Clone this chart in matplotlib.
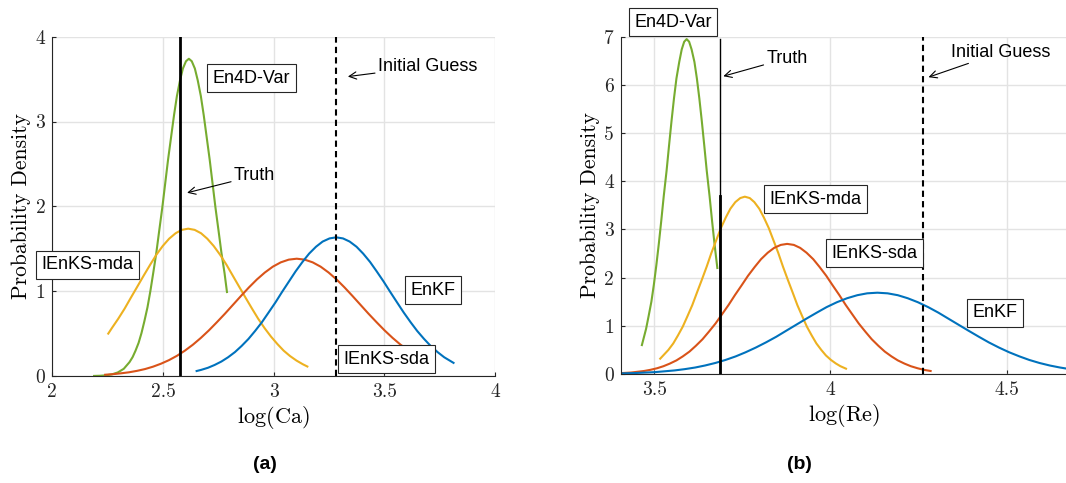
import matplotlib
matplotlib.use("Agg")
from matplotlib import pyplot as plt

plt.rcParams['mathtext.fontset'] = 'cm'
plt.rcParams['axes.formatter.use_mathtext'] = True

# MATLAB default colours
c_blue = (0.0, 0.447, 0.741)
c_red = (0.85, 0.325, 0.098)
c_yel = (0.929, 0.694, 0.125)
c_green = (0.466, 0.674, 0.188)

# ---- (a) log(Ca) ----
ca_4dvar_x = [2.189, 2.216, 2.242, 2.269, 2.296, 2.323, 2.349, 2.363, 2.376, 2.390, 2.403, 2.416,
              2.430, 2.443, 2.456, 2.470, 2.483, 2.497, 2.510, 2.523, 2.537, 2.550, 2.563, 2.577,
              2.590, 2.604, 2.617, 2.630, 2.644, 2.657, 2.671, 2.684, 2.697, 2.711, 2.724, 2.737,
              2.751, 2.764, 2.778, 2.789]
ca_4dvar_y = [0.001, 0.003, 0.008, 0.019, 0.042, 0.085, 0.164, 0.223, 0.298, 0.391, 0.506, 0.645,
              0.809, 0.999, 1.214, 1.453, 1.712, 1.986, 2.268, 2.550, 2.823, 3.076, 3.301, 3.486,
              3.625, 3.711, 3.740, 3.711, 3.625, 3.486, 3.301, 3.076, 2.823, 2.550, 2.268, 1.986,
              1.712, 1.453, 1.214, 0.99]
ca_mda_x = [2.253, 2.269, 2.298, 2.327, 2.355, 2.384, 2.413, 2.442, 2.470, 2.499, 2.528, 2.557,
            2.585, 2.614, 2.643, 2.672, 2.700, 2.729, 2.758, 2.787, 2.815, 2.844, 2.873, 2.902,
            2.930, 2.959, 2.988, 3.017, 3.045, 3.074, 3.103, 3.132, 3.152]
ca_mda_y = [0.500, 0.564, 0.675, 0.795, 0.923, 1.053, 1.184, 1.311, 1.429, 1.533, 1.619, 1.683,
            1.723, 1.737, 1.723, 1.683, 1.619, 1.533, 1.429, 1.311, 1.184, 1.053, 0.923, 0.795,
            0.675, 0.564, 0.464, 0.376, 0.299, 0.235, 0.182, 0.138, 0.112]
ca_sda_x = [2.239, 2.275, 2.311, 2.347, 2.383, 2.419, 2.455, 2.491, 2.527, 2.563, 2.599, 2.635,
            2.671, 2.707, 2.743, 2.780, 2.816, 2.852, 2.888, 2.924, 2.960, 2.996, 3.032, 3.068,
            3.104, 3.140, 3.176, 3.212, 3.248, 3.284, 3.320, 3.356, 3.392, 3.428, 3.465, 3.501,
            3.537, 3.573, 3.623]
ca_sda_y = [0.015, 0.022, 0.032, 0.044, 0.061, 0.082, 0.110, 0.145, 0.187, 0.238, 0.299, 0.369,
            0.449, 0.537, 0.633, 0.735, 0.839, 0.943, 1.044, 1.138, 1.220, 1.289, 1.340, 1.372,
            1.383, 1.372, 1.340, 1.289, 1.220, 1.138, 1.044, 0.943, 0.839, 0.735, 0.633, 0.537,
            0.449, 0.369, 0.274]
ca_enkf_x = [2.652, 2.672, 2.703, 2.733, 2.764, 2.794, 2.825, 2.855, 2.886, 2.916, 2.947, 2.977,
             3.008, 3.038, 3.069, 3.099, 3.130, 3.160, 3.191, 3.221, 3.252, 3.282, 3.313, 3.343,
             3.374, 3.404, 3.435, 3.465, 3.496, 3.526, 3.557, 3.587, 3.618, 3.648, 3.679, 3.709,
             3.740, 3.770, 3.812]
ca_enkf_y = [0.059, 0.072, 0.097, 0.130, 0.171, 0.221, 0.282, 0.354, 0.437, 0.531, 0.635, 0.749,
             0.868, 0.992, 1.115, 1.234, 1.345, 1.443, 1.524, 1.585, 1.622, 1.635, 1.622, 1.585,
             1.524, 1.443, 1.345, 1.234, 1.115, 0.992, 0.868, 0.749, 0.635, 0.531, 0.437, 0.354,
             0.282, 0.221, 0.155]
ca_truth = 2.577
ca_guess = 3.282

# ---- (b) log(Re) ----
re_4dvar_x = [3.465, 3.477, 3.484, 3.492, 3.499, 3.506, 3.513, 3.520, 3.527, 3.535, 3.542, 3.549,
              3.556, 3.563, 3.571, 3.578, 3.585, 3.592, 3.599, 3.606, 3.614, 3.621, 3.628, 3.635,
              3.642, 3.649, 3.657, 3.664, 3.671, 3.679]
re_4dvar_y = [0.60, 0.940, 1.198, 1.503, 1.856, 2.257, 2.701, 3.182, 3.691, 4.215, 4.739, 5.246,
              5.717, 6.133, 6.478, 6.736, 6.896, 6.950, 6.896, 6.736, 6.478, 6.133, 5.717, 5.246,
              4.739, 4.215, 3.691, 3.182, 2.701, 2.20]
re_mda_x = [3.517, 3.540, 3.554, 3.567, 3.581, 3.594, 3.608, 3.621, 3.635, 3.649, 3.662, 3.676,
            3.689, 3.703, 3.716, 3.730, 3.744, 3.757, 3.771, 3.784, 3.798, 3.811, 3.825, 3.838,
            3.852, 3.865, 3.879, 3.893, 3.906, 3.920, 3.933, 3.947, 3.960, 3.974, 3.987, 4.001,
            4.015, 4.028, 4.044]
re_mda_y = [0.318, 0.498, 0.634, 0.796, 0.983, 1.195, 1.430, 1.685, 1.954, 2.232, 2.509, 2.778,
            3.027, 3.248, 3.430, 3.567, 3.651, 3.680, 3.651, 3.567, 3.430, 3.248, 3.027, 2.778,
            2.509, 2.232, 1.954, 1.685, 1.430, 1.195, 0.983, 0.796, 0.634, 0.498, 0.385, 0.293,
            0.219, 0.162, 0.110]
re_sda_x = [3.397, 3.434, 3.471, 3.489, 3.508, 3.526, 3.544, 3.563, 3.581, 3.600, 3.618, 3.637,
            3.655, 3.674, 3.692, 3.711, 3.729, 3.748, 3.766, 3.785, 3.803, 3.822, 3.840, 3.859,
            3.877, 3.896, 3.914, 3.932, 3.951, 3.969, 3.988, 4.006, 4.025, 4.043, 4.062, 4.080,
            4.099, 4.117, 4.136, 4.154, 4.173, 4.191, 4.210, 4.228, 4.247, 4.265, 4.284]
re_sda_y = [0.014, 0.030, 0.062, 0.086, 0.119, 0.161, 0.215, 0.282, 0.365, 0.465, 0.584, 0.721,
            0.877, 1.049, 1.236, 1.434, 1.638, 1.841, 2.038, 2.221, 2.383, 2.517, 2.617, 2.679,
            2.700, 2.679, 2.617, 2.517, 2.383, 2.221, 2.038, 1.841, 1.638, 1.434, 1.236, 1.049,
            0.877, 0.721, 0.584, 0.465, 0.365, 0.282, 0.215, 0.161, 0.119, 0.086, 0.062]
re_enkf_x = [3.386, 3.443, 3.501, 3.558, 3.587, 3.616, 3.644, 3.673, 3.702, 3.731, 3.759, 3.788,
             3.817, 3.846, 3.874, 3.903, 3.932, 3.961, 3.989, 4.018, 4.047, 4.076, 4.104, 4.133,
             4.162, 4.191, 4.219, 4.248, 4.277, 4.306, 4.334, 4.363, 4.392, 4.421, 4.449, 4.478,
             4.507, 4.536, 4.564, 4.593, 4.622, 4.651, 4.679, 4.708]
re_enkf_y = [0.009, 0.019, 0.038, 0.074, 0.101, 0.134, 0.176, 0.228, 0.291, 0.365, 0.450, 0.548,
             0.656, 0.772, 0.896, 1.023, 1.150, 1.273, 1.388, 1.489, 1.572, 1.635, 1.674, 1.687,
             1.674, 1.635, 1.572, 1.489, 1.388, 1.273, 1.150, 1.023, 0.896, 0.772, 0.656, 0.548,
             0.450, 0.365, 0.291, 0.228, 0.176, 0.134, 0.101, 0.074]
re_truth = 3.687
re_guess = 4.261

sans = ['Liberation Sans', 'DejaVu Sans']
box = dict(boxstyle='square,pad=0.3', fc='white', ec=(0.15, 0.15, 0.15), lw=0.8)
arrow = dict(arrowstyle='->', color='k', lw=0.8, shrinkA=0, shrinkB=0)


def style_axes(ax, xlim, ylim, xticks, yticks):
    ax.set_xlim(*xlim)
    ax.set_ylim(*ylim)
    ax.set_xticks(xticks)
    ax.set_yticks(yticks)
    ax.set_xticklabels([('%g' % t) for t in xticks], family='cmr10', fontsize=14)
    ax.set_yticklabels([('%g' % t) for t in yticks], family='cmr10', fontsize=14)
    ax.grid(True, color=(0.89, 0.89, 0.89), lw=1.0)
    ax.set_axisbelow(True)
    for s in ['top', 'right']:
        ax.spines[s].set_visible(False)
    for s in ['left', 'bottom']:
        ax.spines[s].set_color((0.15, 0.15, 0.15))
        ax.spines[s].set_linewidth(0.8)
    ax.tick_params(direction='in', length=3, width=0.8, color=(0.15, 0.15, 0.15),
                   labelcolor=(0.15, 0.15, 0.15), pad=5)
    ax.set_ylabel('Probability Density', family='cmr10', fontsize=15.5, labelpad=3)


fig = plt.figure(figsize=(10.66, 4.83), dpi=100)

# (a)
ax1 = fig.add_axes([0.049, 0.2215, 0.4155, 0.7025])
ax1.plot(ca_4dvar_x, ca_4dvar_y, color=c_green, lw=1.5)
ax1.plot(ca_mda_x, ca_mda_y, color=c_yel, lw=1.5)
ax1.plot(ca_sda_x, ca_sda_y, color=c_red, lw=1.5)
ax1.plot(ca_enkf_x, ca_enkf_y, color=c_blue, lw=1.5)
ax1.plot([ca_truth, ca_truth], [0, 4], color='k', lw=2.0)
ax1.plot([ca_guess, ca_guess], [0, 4], color='k', lw=1.5, dashes=(3, 2))
style_axes(ax1, (2, 4), (0, 4), [2, 2.5, 3, 3.5, 4], [0, 1, 2, 3, 4])
ax1.set_xlabel(r'$\log(\mathrm{Ca})$', fontsize=16, labelpad=2)
ax1.annotate('Initial Guess', xy=(3.335, 3.53), xytext=(3.47, 3.65), family=sans, fontsize=13,
             va='center', ha='left', arrowprops=arrow)
ax1.annotate('Truth', xy=(2.609, 2.16), xytext=(2.82, 2.36), family=sans, fontsize=13,
             va='center', ha='left', arrowprops=arrow)
ax1.text(2.90, 3.51, 'En4D-Var', family=sans, fontsize=13, ha='center', va='center', bbox=box, zorder=5)
ax1.text(2.16, 1.31, 'IEnKS-mda', family=sans, fontsize=13, ha='center', va='center', bbox=box,
         zorder=5, clip_on=False)
ax1.text(3.72, 1.01, 'EnKF', family=sans, fontsize=13, ha='center', va='center', bbox=box, zorder=5)
ax1.text(3.51, 0.20, 'IEnKS-sda', family=sans, fontsize=13, ha='center', va='center', bbox=box, zorder=5)

# (b)
ax2 = fig.add_axes([0.5823, 0.2257, 0.4177, 0.6983])
ax2.plot(re_4dvar_x, re_4dvar_y, color=c_green, lw=1.5)
ax2.plot(re_mda_x, re_mda_y, color=c_yel, lw=1.5)
ax2.plot(re_sda_x, re_sda_y, color=c_red, lw=1.5)
ax2.plot(re_enkf_x, re_enkf_y, color=c_blue, lw=1.5)
ax2.plot([re_truth, re_truth], [0, 6.95], color='k', lw=1.0)
ax2.plot([re_truth, re_truth], [0, 3.7], color='k', lw=2.0)
ax2.plot([re_guess, re_guess], [0, 7], color='k', lw=1.5, dashes=(3, 2))
style_axes(ax2, (3.405, 4.668), (0, 7), [3.5, 4, 4.5], [0, 1, 2, 3, 4, 5, 6, 7])
ax2.set_xlabel(r'$\log(\mathrm{Re})$', fontsize=16, labelpad=2)
ax2.annotate('Truth', xy=(3.696, 6.18), xytext=(3.818, 6.55), family=sans, fontsize=13,
             va='center', ha='left', arrowprops=arrow)
ax2.annotate('Initial Guess', xy=(4.278, 6.16), xytext=(4.343, 6.68), family=sans, fontsize=13,
             va='center', ha='left', arrowprops=arrow)
ax2.text(3.554, 7.30, 'En4D-Var', family=sans, fontsize=13, ha='center', va='center', bbox=box,
         zorder=5, clip_on=False)
ax2.text(3.957, 3.63, 'IEnKS-mda', family=sans, fontsize=13, ha='center', va='center', bbox=box, zorder=5)
ax2.text(4.125, 2.51, 'IEnKS-sda', family=sans, fontsize=13, ha='center', va='center', bbox=box, zorder=5)
ax2.text(4.466, 1.27, 'EnKF', family=sans, fontsize=13, ha='center', va='center', bbox=box, zorder=5)

fig.text(0.2486, 0.039, '(a)', family=sans, fontsize=14, fontweight='bold', ha='center', va='center')
fig.text(0.7495, 0.039, '(b)', family=sans, fontsize=14, fontweight='bold', ha='center', va='center')

fig.savefig('out.png', dpi=100)
